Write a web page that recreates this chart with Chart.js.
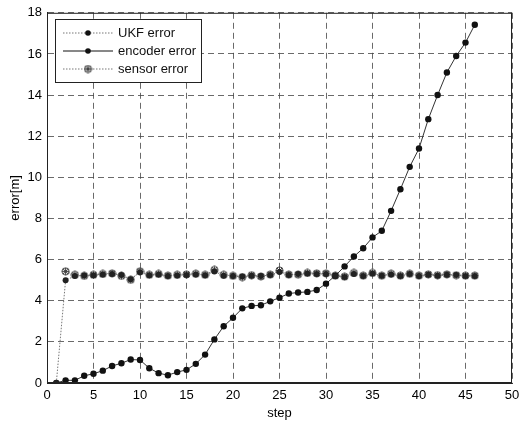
<!DOCTYPE html>
<html>
<head>
<meta charset="utf-8">
<script src="https://cdn.jsdelivr.net/npm/chart.js@4.4.1/dist/chart.umd.min.js"></script>
<style>
  html, body { margin: 0; padding: 0; background: #fff; }
  #wrap { width: 520px; height: 421px; }
</style>
</head>
<body>
<div id="wrap"><canvas id="errChart" width="520" height="421"></canvas></div>
<script>
// step index (x axis)
var steps = [1,2,3,4,5,6,7,8,9,10,11,12,13,14,15,16,17,18,19,20,21,22,23,24,25,26,27,28,29,30,31,32,33,34,35,36,37,38,39,40,41,42,43,44,45,46];
var ukfErr = [0,5.0,5.2,5.23,5.24,5.28,5.3,5.25,5.05,5.38,5.24,5.27,5.2,5.23,5.25,5.28,5.24,5.42,5.22,5.2,5.18,5.22,5.2,5.25,5.4,5.25,5.3,5.32,5.3,5.3,5.2,5.15,5.3,5.2,5.32,5.22,5.28,5.2,5.3,5.2,5.26,5.22,5.26,5.25,5.2,5.2];
var encoderErr = [0,0.13,0.13,0.35,0.45,0.6,0.83,0.96,1.14,1.12,0.72,0.48,0.38,0.53,0.64,0.93,1.38,2.12,2.76,3.17,3.63,3.75,3.78,3.97,4.15,4.35,4.40,4.43,4.52,4.83,5.22,5.67,6.15,6.55,7.08,7.4,8.37,9.42,10.51,11.4,12.83,14.0,15.1,15.9,16.55,17.42];
var sensorErr = [null,5.43,5.26,5.21,5.26,5.3,5.33,5.21,5.02,5.43,5.26,5.3,5.22,5.26,5.28,5.31,5.26,5.5,5.26,5.21,5.15,5.24,5.18,5.27,5.47,5.27,5.27,5.35,5.33,5.33,5.22,5.17,5.35,5.22,5.35,5.22,5.31,5.22,5.31,5.22,5.28,5.24,5.28,5.24,5.22,5.22];
var seriesNames = ["UKF error", "encoder error", "sensor error"];
var xTicks = [0,5,10,15,20,25,30,35,40,45,50];
var yTicks = [0,2,4,6,8,10,12,14,16,18];

function toPoints(vals) {
    return steps.map(function (s, i) { return { x: s, y: vals[i] }; });
}

// circle with a star inside, for the sensor series
function starMarker() {
    var c = document.createElement("canvas");
    c.width = 9; c.height = 9;
    var g = c.getContext("2d");
    g.strokeStyle = "#444";
    g.lineWidth = 1;
    g.beginPath(); g.arc(4.5, 4.5, 3.6, 0, Math.PI * 2); g.stroke();
    g.beginPath();
    g.moveTo(4.5, 1); g.lineTo(4.5, 8);
    g.moveTo(1, 4.5); g.lineTo(8, 4.5);
    g.moveTo(2, 2); g.lineTo(7, 7);
    g.moveTo(7, 2); g.lineTo(2, 7);
    g.stroke();
    return c;
}
var sensorIcon = starMarker();

var frameAndLegend = {
    id: "frameAndLegend",
    afterDraw: function (chart) {
        var ctx = chart.ctx, a = chart.chartArea;
        ctx.save();
        ctx.strokeStyle = "#222";
        ctx.lineWidth = 1;
        ctx.setLineDash([]);
        ctx.strokeRect(a.left + 0.5, a.top + 0.5, a.right - a.left - 1, a.bottom - a.top - 1);

        // legend box
        var bx = 55, by = 19, bw = 146, bh = 63;
        ctx.fillStyle = "#fff";
        ctx.fillRect(bx, by, bw, bh);
        ctx.strokeRect(bx + 0.5, by + 0.5, bw, bh);
        ctx.font = "13px 'Liberation Sans', Arial, sans-serif";
        ctx.textBaseline = "middle";
        var rows = [by + 14, by + 32, by + 50];
        for (var i = 0; i < 3; i++) {
            var yy = rows[i];
            ctx.strokeStyle = i === 1 ? "#111" : "#777";
            ctx.setLineDash(i === 1 ? [] : [1.5, 1.5]);
            ctx.beginPath(); ctx.moveTo(bx + 8, yy); ctx.lineTo(bx + 58, yy); ctx.stroke();
            ctx.setLineDash([]);
            if (i === 2) {
                ctx.drawImage(sensorIcon, bx + 28.5, yy - 4.5);
            } else {
                ctx.fillStyle = "#111";
                ctx.beginPath(); ctx.arc(bx + 33, yy, 2.8, 0, Math.PI * 2); ctx.fill();
            }
            ctx.fillStyle = "#111";
            ctx.fillText(seriesNames[i], bx + 63, yy);
        }
        ctx.restore();
    }
};

var tickFont = { family: "'Liberation Sans', Arial, sans-serif", size: 13 };

var myChart = new Chart(document.getElementById("errChart"), {
    type: "line",
    data: {
        datasets: [
            {
                label: seriesNames[0],
                data: toPoints(ukfErr),
                borderColor: "#777",
                borderWidth: 1,
                borderDash: [1.5, 1.5],
                pointRadius: 3,
                pointBackgroundColor: "#222",
                pointBorderColor: "#222",
                pointBorderWidth: 0
            },
            {
                label: seriesNames[1],
                data: toPoints(encoderErr),
                borderColor: "#333",
                borderWidth: 1,
                pointRadius: 3.2,
                pointBackgroundColor: "#111",
                pointBorderColor: "#111",
                pointBorderWidth: 0
            },
            {
                label: seriesNames[2],
                data: toPoints(sensorErr),
                borderColor: "#888",
                borderWidth: 1,
                borderDash: [1.5, 1.5],
                pointStyle: sensorIcon,
                spanGaps: false
            }
        ]
    },
    options: {
        responsive: false,
        animation: false,
        layout: { padding: { top: 10, right: 8, left: 0, bottom: 0 } },
        plugins: { legend: { display: false }, tooltip: { enabled: false } },
        scales: {
            x: {
                type: "linear",
                min: 0, max: 50,
                afterBuildTicks: function (s) { s.ticks = xTicks.map(function (v) { return { value: v }; }); },
                afterFit: function (s) { s.height = 38; s.paddingRight = 0; s.paddingLeft = 0; },
                grid: { color: "#444", lineWidth: 0.8, drawTicks: false, tickLength: 0 },
                border: { display: true, color: "#222", dash: [6, 4] },
                ticks: { color: "#000", font: tickFont, padding: 5, maxRotation: 0 },
                title: { display: true, text: "step", color: "#000", font: tickFont, padding: { top: 0, bottom: 0 } }
            },
            y: {
                min: 0, max: 18,
                afterBuildTicks: function (s) { s.ticks = yTicks.map(function (v) { return { value: v }; }); },
                afterFit: function (s) { s.width = 47; },
                grid: { color: "#444", lineWidth: 0.8, drawTicks: false, tickLength: 0 },
                border: { display: true, color: "#222", dash: [6, 4] },
                ticks: { color: "#000", font: tickFont, padding: 5 },
                title: { display: true, text: "error[m]", color: "#000", font: tickFont, padding: { top: 8, bottom: 0 } }
            }
        }
    },
    plugins: [frameAndLegend]
});
</script>
</body>
</html>
